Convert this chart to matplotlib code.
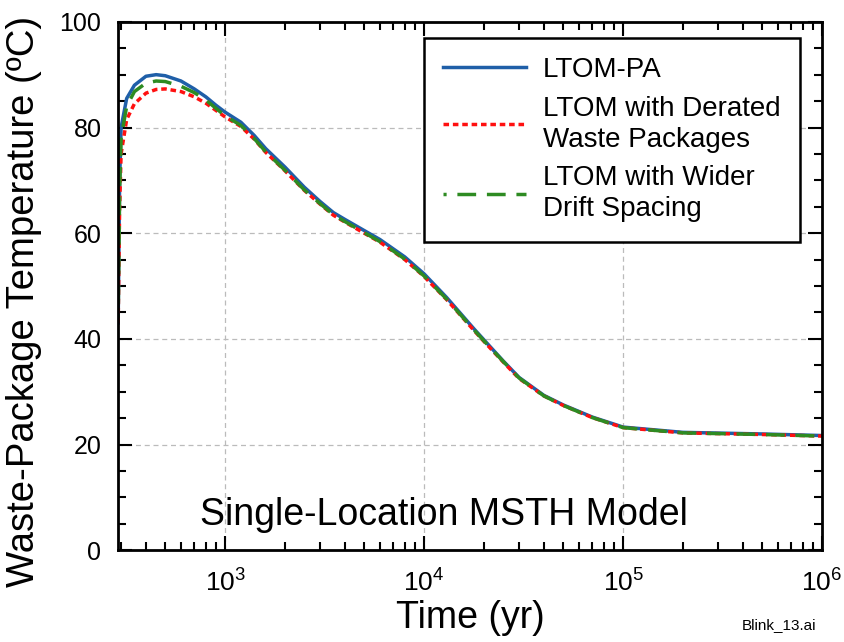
import matplotlib
matplotlib.use("Agg")
import matplotlib.pyplot as plt
from matplotlib.ticker import MultipleLocator, LogLocator, NullFormatter
import numpy as np

plt.rcParams['font.family'] = ['Liberation Sans', 'DejaVu Sans']

# time (yr) and temperatures (C)
t_pa = [290, 295, 300, 320, 350, 400, 450, 500, 600, 700, 800, 900, 1000, 1200, 1400, 1600,
        2000, 2500, 3000, 3500, 4000, 5000, 6000, 8000, 10000, 13000, 17800, 20000, 25000,
        30000, 40000, 50000, 70000, 100000, 200000, 500000, 1000000]
temp_pa = [43, 70, 80, 85.5, 88, 89.7, 90, 89.8, 88.8, 87.3, 85.8, 84.2, 82.9, 81, 78.5, 76,
           72.5, 68.7, 66, 63.9, 62.6, 60.5, 58.8, 55.5, 52.3, 47.8, 41.9, 39.8, 35.8,
           32.7, 29.3, 27.5, 25.2, 23.3, 22.3, 22.0, 21.7]

t_der = [290, 295, 300, 320, 350, 400, 450, 500, 600, 700, 800, 1000, 1200, 1400, 1600,
         2000, 2500, 3000, 3500, 4000, 5000, 6000, 8000, 10000, 13000, 17800, 20000, 25000,
         30000, 40000, 50000, 70000, 100000, 200000, 500000, 1000000]
temp_der = [43, 65, 75, 81.5, 84.5, 86.5, 87.2, 87.3, 86.8, 85.8, 84.6, 82, 80.2, 77.8, 75.3,
            71.8, 68.1, 65.5, 63.4, 62.1, 60.0, 58.3, 55.0, 51.8, 47.4, 41.6, 39.5, 35.6,
            32.5, 29.2, 27.4, 25.1, 23.2, 22.2, 21.9, 21.6]

t_wide = [290, 295, 300, 320, 350, 400, 450, 500, 600, 700, 800, 1000, 1200, 1400, 1600,
          2000, 2500, 3000, 3500, 4000, 5000, 6000, 8000, 10000, 13000, 17800, 20000, 25000,
          30000, 40000, 50000, 70000, 100000, 200000, 500000, 1000000]
temp_wide = [44, 68, 78, 84, 86.8, 88.4, 88.8, 88.7, 87.8, 86.6, 85.2, 82.2, 80.4, 77.9, 75.4,
             71.9, 68.2, 65.6, 63.5, 62.2, 60.1, 58.4, 55.1, 51.9, 47.5, 41.7, 39.6, 35.7,
             32.6, 29.2, 27.4, 25.1, 23.2, 22.2, 21.9, 21.6]

labels = ['LTOM-PA', 'LTOM with Derated\nWaste Packages', 'LTOM with Wider\nDrift Spacing']

fig = plt.figure(figsize=(8.44, 6.42), dpi=100)
ax = fig.add_axes([0.14, 0.143, 0.834, 0.823])

ax.plot(t_pa, temp_pa, color='#1f5fa8', lw=2.5, label=labels[0])
ax.plot(t_der, temp_der, color='#ff1010', lw=2.5, ls=(0, (1.6, 1.1)), label=labels[1])
ax.plot(t_wide, temp_wide, color='#2e8b22', lw=2.5, ls=(4.5, (5.4, 3.1)), label=labels[2])

ax.set_xscale('log')
ax.set_xlim(290, 1e6)
ax.set_ylim(0, 100)
ax.yaxis.set_major_locator(MultipleLocator(20))
ax.yaxis.set_minor_locator(MultipleLocator(5))
ax.xaxis.set_major_locator(LogLocator(base=10, numticks=10))
ax.xaxis.set_minor_locator(LogLocator(base=10, subs=np.arange(2, 10), numticks=20))
ax.xaxis.set_minor_formatter(NullFormatter())

ax.grid(True, which='major', color='#bbbbbb', ls=(0, (4, 3)), lw=0.9)
ax.tick_params(which='both', direction='in', top=True, right=True, width=1.5)
ax.tick_params(which='major', length=10)
ax.tick_params(which='minor', length=6)
ax.tick_params(axis='y', labelsize=18, pad=12)
ax.tick_params(axis='x', labelsize=19, pad=14)
for s in ax.spines.values():
    s.set_linewidth(2)

ax.set_xlabel('Time (yr)', fontsize=27)
ax.set_ylabel('Waste-Package Temperature (ºC)', fontsize=27.5)
ax.xaxis.set_label_coords(0.5, -0.094)
ax.yaxis.set_label_coords(-0.108, 0.47)

ax.text(0.1165, 0.047, 'Single-Location MSTH Model', transform=ax.transAxes,
        fontsize=27, va='baseline')
fig.text(0.923, 0.02, 'Blink_13.ai', fontsize=11, ha='center')

leg = ax.legend(loc='upper right', bbox_to_anchor=(0.969, 0.970), fontsize=20, fancybox=False,
                framealpha=1, edgecolor='black', handlelength=3.0, labelspacing=0.45,
                borderpad=0.7, handletextpad=0.6, borderaxespad=0)
leg.get_frame().set_linewidth(1.8)
for txt in leg.get_texts():
    txt.set_linespacing(1.25)

fig.savefig('out.png', dpi=100)
